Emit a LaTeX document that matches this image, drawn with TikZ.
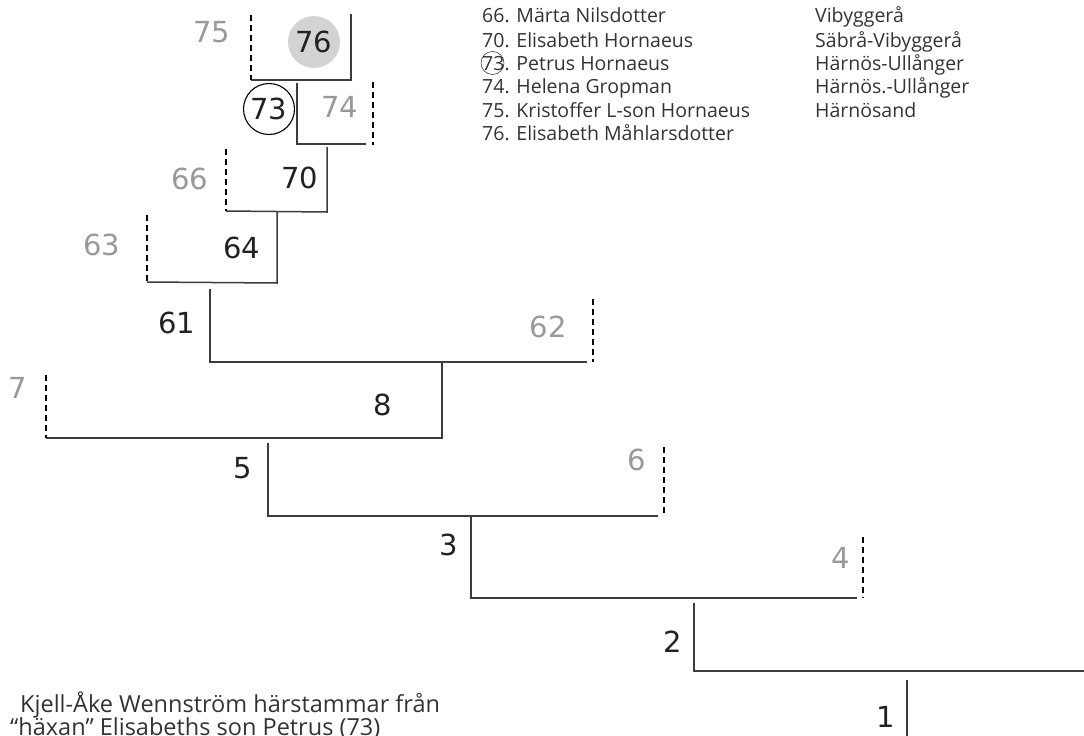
\documentclass[tikz,border=0pt]{standalone}
\usepackage{fontspec}
\setmainfont{Open Sans}
\newfontfamily\tallyfont{DejaVu Sans}
\usetikzlibrary{positioning}
\definecolor{inkdark}{HTML}{222222}
\definecolor{inklight}{HTML}{999999}
\definecolor{linegray}{HTML}{3C3C3C}
\definecolor{textgray}{HTML}{333333}
\definecolor{ringfill}{HTML}{D3D3D3}
\tikzset{
    known/.style ={font=\tallyfont\fontsize{29}{29}\selectfont, text=inkdark, inner sep=0pt},
    unknown/.style ={known, text=inklight},
    kinline/.style ={draw=linegray, line width=1.5pt},
    guessline/.style ={draw=black, line width=1.4pt, dash pattern=on 6pt off 4pt},
    listtext/.style ={font=\fontsize{19.5}{23}\selectfont, text=textgray, inner sep=0pt, anchor=base west},
    notetext/.style ={font=\fontsize{23.5}{23}\selectfont, text=textgray, inner sep=0pt, anchor=base west}
}

\begin{document}
\begin{tikzpicture}[x=1pt, y=-1pt]
\useasboundingbox (0,0) rectangle (1084,736);

% Line ends
\coordinate (t75) at (251,15);  \coordinate (b75) at (251,80);
\coordinate (t76) at (351,14);  \coordinate (b76) at (351,80);
\coordinate (t73) at (297,83);  \coordinate (b73) at (297,144);
\coordinate (t74) at (373,82);  \coordinate (b74) at (373,145);
\coordinate (e74) at (366,144);
\coordinate (t66) at (226,149); \coordinate (b66) at (226,211);
\coordinate (t70) at (327,147); \coordinate (b70) at (327,212);
\coordinate (t63) at (147,215); \coordinate (b63) at (147,282);
\coordinate (t64) at (277,211); \coordinate (b64) at (277,283);
\coordinate (t61) at (210,289); \coordinate (b61) at (210,362);
\coordinate (t62) at (593,299); \coordinate (b62) at (593,362);
\coordinate (e62) at (587,362);
\coordinate (t7) at (46,375);   \coordinate (b7) at (46,438);
\coordinate (t8) at (442,363);  \coordinate (b8) at (442,438);
\coordinate (t5) at (268,443);  \coordinate (b5) at (268,516);
\coordinate (t6) at (664,447);  \coordinate (b6) at (664,514);
\coordinate (e6) at (658,516);
\coordinate (t3) at (471,516);  \coordinate (b3) at (471,598);
\coordinate (t4) at (863,537);  \coordinate (b4) at (863,598);
\coordinate (e4) at (857,598);
\coordinate (t2) at (694,603);  \coordinate (b2) at (694,671);
\coordinate (e2) at (1084,671);
\coordinate (t1) at (907,680);  \coordinate (b1) at (907,736);

% Nodes
\node[known, circle, fill=ringfill, minimum size=52pt] (n76) at (314,42) {76};
\node[unknown] (n75) at (212,32) {75};
\node[known, circle, draw=black, line width=1.1pt, minimum size=51pt] (n73) at (269,109) {73};
\node[unknown] (n74) at (340,107) {74};
\node[unknown] (n66) at (190,179) {66};
\node[known] (n70) at (300,178) {70};
\node[unknown] (n63) at (102,245) {63};
\node[known] (n64) at (242,248) {64};
\node[known] (n61) at (177,323) {61};
\node[unknown] (n62) at (548,327) {62};
\node[unknown] (n7) at (18,388) {7};
\node[known] (n8) at (383,405) {8};
\node[known] (n5) at (243,468) {5};
\node[unknown] (n6) at (637,460) {6};
\node[known] (n3) at (449,545) {3};
\node[unknown] (n4) at (841,558) {4};
\node[known] (n2) at (673,642) {2};
\node[known] (n1) at (886,717) {1};

% Names and places
\node[listtext] (l66) at (482,23) {66. Märta Nilsdotter};
\node[listtext] (l70) at (482,47) {70. Elisabeth Hornaeus};
\node[listtext] (l73) at (482,70) {73. Petrus Hornaeus};
\node[draw=black, thin, circle, minimum size=23pt] (c73) at ([xshift=10.5pt, yshift=7pt]l73.base west) {};
\node[listtext] (l74) at (482,93) {74. Helena Gropman};
\node[listtext] (l75) at (482,117) {75. Kristoffer L-son Hornaeus};
\node[listtext] (l76) at (482,140) {76. Elisabeth Måhlarsdotter};
\node[listtext] (p66) at (815,23) {Vibyggerå};
\node[listtext] (p70) at (815,47) {Säbrå-Vibyggerå};
\node[listtext] (p73) at (815,70) {Härnös-Ullånger};
\node[listtext] (p74) at (815,93) {Härnös.-Ullånger};
\node[listtext] (p75) at (815,117) {Härnösand};

\node[notetext] (note1) at (20,712) {Kjell-Åke Wennström härstammar från};
\node[notetext] (note2) at ([xshift=-10pt, yshift=-23pt]note1.base west) {“häxan” Elisabeths son Petrus (73)};

% Lines
\draw[kinline] (t76) -- (b76) -- (b75);
\draw[guessline] (t75) -- (b75);
\draw[kinline] (t73) -- (b73) -- (e74);
\draw[guessline] (t74) -- (b74);
\draw[kinline] (t70) -- (b70) -- (b66);
\draw[guessline] (t66) -- (b66);
\draw[kinline] (t64) -- (b64) -- (b63);
\draw[guessline] (t63) -- (b63);
\draw[kinline] (t61) -- (b61) -- (e62);
\draw[guessline] (t62) -- (b62);
\draw[kinline] (t8) -- (b8) -- (b7);
\draw[guessline] (t7) -- (b7);
\draw[kinline] (t5) -- (b5) -- (e6);
\draw[guessline] (t6) -- (b6);
\draw[kinline] (t3) -- (b3) -- (e4);
\draw[guessline] (t4) -- (b4);
\draw[kinline] (t2) -- (b2) -- (e2);
\draw[kinline] (t1) -- (b1);

\end{tikzpicture}
\end{document}
